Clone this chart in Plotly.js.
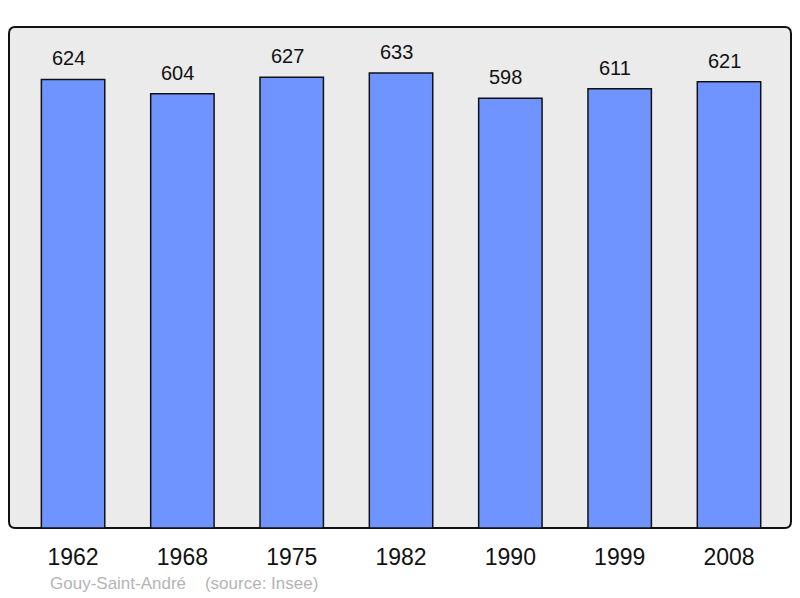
<!DOCTYPE html>
<html>
<head>
<meta charset="utf-8">
<script src="https://cdn.plot.ly/plotly-3.0.1.min.js"></script>
<style>
  html, body { margin: 0; padding: 0; background: #ffffff; }
  #chart { width: 800px; height: 598px; }
</style>
</head>
<body>
<div id="chart"></div>
<script>
// population per census year
var years = ['1962', '1968', '1975', '1982', '1990', '1999', '2008'];
var population = [624, 604, 627, 633, 598, 611, 621];

var trace = {
	x: years,
	y: population,
	type: 'bar',
	width: 0.58,
	marker: {color: '#7094ff', line: {color: '#111111', width: 1.5}},
	hoverinfo: 'none'
};

// value labels above each bar (x given as category index)
var labels = years.map(function(yr, i){
	return {
		xref: 'x', yref: 'y',
		x: i, y: population[i],
		text: String(population[i]),
		showarrow: false,
		yanchor: 'bottom',
		yshift: 8,
		xshift: -4.5,
		font: {family: 'Liberation Sans, Arial, sans-serif', size: 20, color: '#111111'}
	};
});

labels.push({
	xref: 'paper', yref: 'paper',
	x: 0.05, y: -0.088,
	xanchor: 'left', yanchor: 'top',
	text: 'Gouy-Saint-André&nbsp;&nbsp;&nbsp;&nbsp;(source: Insee)',
	showarrow: false,
	font: {family: 'Liberation Sans, Arial, sans-serif', size: 17, color: '#b4b4b4'}
});

// rounded frame round the plot area (paper coords)
var rx = 0.008, ry = 0.013;
var frame = 'M ' + rx + ',0 L ' + (1 - rx) + ',0 Q 1,0 1,' + ry +
	' L 1,' + (1 - ry) + ' Q 1,1 ' + (1 - rx) + ',1' +
	' L ' + rx + ',1 Q 0,1 0,' + (1 - ry) +
	' L 0,' + ry + ' Q 0,0 ' + rx + ',0 Z';

var layout = {
	width: 800, height: 598,
	margin: {l: 9, r: 9, t: 27, b: 70},
	paper_bgcolor: '#ffffff',
	plot_bgcolor: 'rgba(0,0,0,0)',
	showlegend: false,
	xaxis: {
		type: 'category',
		range: [-0.586, 6.567],
		showgrid: false, zeroline: false, showline: false,
		ticks: '',
		ticklabelstandoff: 13,
		tickfont: {family: 'Liberation Sans, Arial, sans-serif', size: 23, color: '#111111'}
	},
	yaxis: {
		range: [0, 697],
		showgrid: false, zeroline: false, showline: false,
		showticklabels: false, ticks: ''
	},
	shapes: [
		{type: 'path', xref: 'paper', yref: 'paper', path: frame,
		 fillcolor: '#ebebeb', line: {color: '#111111', width: 2}, layer: 'below'}
	],
	annotations: labels
};

Plotly.newPlot('chart', [trace], layout, {displayModeBar: false, staticPlot: true});
</script>
</body>
</html>
